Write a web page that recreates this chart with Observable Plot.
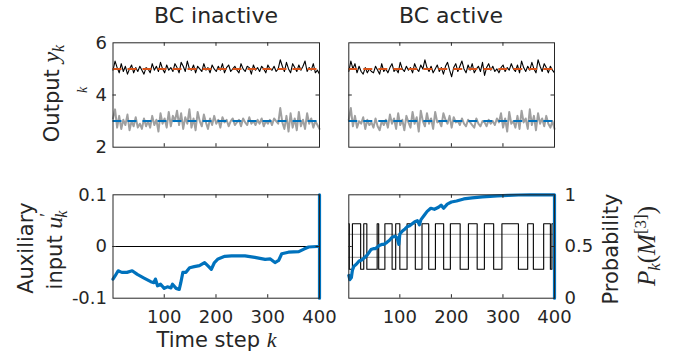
<!DOCTYPE html>
<html><head><meta charset="utf-8">
<script src="https://cdn.jsdelivr.net/npm/d3@7"></script>
<script src="https://cdn.jsdelivr.net/npm/@observablehq/plot@0.6"></script>
<style>
html,body{margin:0;padding:0;background:#fff;}
#chart{position:relative;width:678px;height:362px;overflow:hidden;font-family:"DejaVu Sans",sans-serif;}
#chart svg{position:absolute;left:0;top:0;}
</style></head><body><div id="chart"></div>
<script>
// ---------------- data ----------------
const panelTitles = ["BC inactive", "BC active"];
const xTickValues = [100, 200, 300, 400];
const outputTicks = [2, 4, 6];
const auxTicks = [-0.1, 0, 0.1];
const probTicks = [0, 0.5, 1];
const setpoints = [5, 3];

// measured outputs (sampled evenly over k = 1..400)
const blackInactive = [4.95,5.3,5.05,4.85,5.2,4.9,5.1,4.8,5.0,5.15,4.85,5.05,4.9,5.1,4.95,4.8,5.05,5.0,4.85,5.2,4.95,5.1,4.9,5.25,5.0,4.85,5.15,4.95,5.05,4.9,5.2,5.05,4.85,5.25,5.1,4.9,5.3,5.0,4.95,5.15,4.85,5.1,5.0,4.9,5.2,4.95,5.05,4.85,5.15,5.0,4.9,5.1,4.95,5.2,4.85,5.05,5.15,4.9,5.0,5.1,4.95,4.85,5.2,5.0,4.9,5.1,5.05,4.8,5.15,4.95,5.05,4.9,5.1,5.0,4.85,5.15,5.0,4.95,5.1,4.9,5.0,5.35,5.1,4.9,5.25,5.0,4.85,5.2,5.05,4.9,5.15,4.95,5.1,5.3,4.9,5.05,4.95,5.2,4.85,4.95,4.8];
const grayInactive = [3.1,3.45,2.75,3.2,2.7,3.05,2.85,3.25,2.65,3.0,2.8,3.15,2.75,2.9,2.7,3.1,2.8,3.0,2.75,3.2,2.85,3.05,2.6,3.3,2.9,3.1,2.75,3.35,2.8,3.2,3.0,3.4,2.85,3.3,2.7,3.15,2.9,3.45,2.75,3.1,2.65,3.35,3.0,2.8,3.25,2.95,2.7,3.1,2.85,3.2,2.9,3.05,2.75,3.15,2.95,3.05,2.8,3.0,3.1,2.85,2.95,3.05,2.8,3.1,2.95,2.85,3.15,2.9,3.0,2.85,3.05,2.9,3.1,2.8,3.0,2.9,3.05,2.85,3.1,3.0,2.9,3.5,2.95,2.7,3.2,2.6,3.3,2.75,3.1,2.65,3.35,2.8,3.05,2.7,3.3,2.9,3.1,2.75,3.0,2.85,2.7];
const blackActive = [4.9,5.3,5.0,5.2,4.85,5.1,4.9,4.8,5.05,4.85,5.0,4.9,4.85,5.1,4.95,4.8,5.2,4.9,5.0,4.85,5.05,5.2,4.9,5.0,4.85,5.25,5.0,4.9,5.1,4.95,5.05,4.85,5.2,5.0,4.9,5.15,5.0,5.35,5.05,4.9,5.1,4.85,5.0,5.15,4.9,5.05,4.8,5.1,5.25,4.95,4.7,5.05,5.2,4.9,5.1,5.3,5.0,4.85,5.15,4.95,5.2,4.85,5.0,5.1,4.9,5.25,4.75,5.05,5.2,4.95,5.1,4.9,5.0,4.85,5.05,5.15,4.9,5.05,4.95,5.2,5.0,4.9,5.15,4.85,5.3,5.05,4.9,5.1,4.95,5.25,5.0,4.85,5.35,5.1,4.9,5.2,5.05,4.85,5.1,4.95,4.85];
const grayActive = [3.05,3.5,2.8,3.2,2.75,3.0,2.9,3.15,2.7,3.05,2.85,2.95,2.75,3.1,2.8,2.65,3.0,2.85,3.05,2.75,3.25,2.9,3.1,2.7,3.3,2.85,3.05,2.65,3.2,2.95,2.75,3.35,2.9,3.15,2.6,3.4,3.0,2.8,3.3,2.9,3.1,2.7,3.35,2.95,3.0,2.8,3.3,3.05,2.9,3.2,2.75,3.15,2.95,3.0,2.85,3.1,2.9,2.8,3.05,2.95,2.85,2.75,3.1,2.9,2.8,3.0,2.95,2.8,3.05,2.9,3.0,2.85,3.1,2.95,3.3,2.75,3.1,2.6,3.35,2.9,3.0,2.75,3.2,2.7,3.4,2.95,3.1,2.7,3.45,2.85,3.2,2.65,3.3,2.9,3.1,2.8,3.2,2.9,2.75,3.0,2.7];

// auxiliary input u'_k (BC inactive)
const auxK = [1,5,11,18,28,38,48,61,74,80,83,87,93,100,106,113,116,123,129,132,136,142,149,158,168,178,184,191,197,204,217,230,256,275,295,305,314,321,327,340,360,370,379,395,400,400,400];
const auxV = [-0.063,-0.057,-0.047,-0.05,-0.05,-0.047,-0.054,-0.061,-0.068,-0.07,-0.063,-0.076,-0.073,-0.081,-0.078,-0.08,-0.073,-0.081,-0.083,-0.07,-0.05,-0.05,-0.041,-0.039,-0.037,-0.031,-0.037,-0.044,-0.031,-0.024,-0.019,-0.018,-0.018,-0.021,-0.025,-0.024,-0.031,-0.027,-0.014,-0.011,-0.01,-0.005,-0.001,0,0,0.1,-0.1];

// auxiliary input (BC active): switching signal, and its bounds
const switchK = [1,2,8,24,30,36,56,59,71,85,92,100,114,130,143,156,169,185,198,217,233,250,264,282,298,330,348,359,379,392,395,400];
const switchV = [0.044,-0.044,0.044,-0.044,0.044,-0.044,0.044,-0.044,0.044,-0.044,0.044,-0.044,0.044,-0.044,0.044,-0.044,0.044,-0.044,0.044,-0.044,0.044,-0.044,0.044,-0.044,0.044,-0.044,0.044,-0.044,0.044,-0.044,0.044,0.044];
const bounds = [0.0235, -0.021];

// probability P_k(M^[3])
const probK = [1,3,6,8,11,16,21,26,31,37,44,50,53,60,65,69,75,80,85,91,95,98,100,105,110,114,119,124,129,134,138,141,147,153,160,167,175,180,185,192,200,210,224,240,260,275,289,310,330,353,375,399,400,400];
const probV = [0.22,0.18,0.2,0.27,0.31,0.33,0.36,0.37,0.39,0.42,0.47,0.48,0.48,0.51,0.52,0.52,0.54,0.56,0.59,0.6,0.58,0.52,0.62,0.65,0.67,0.69,0.7,0.72,0.74,0.75,0.71,0.76,0.8,0.84,0.87,0.86,0.88,0.9,0.87,0.91,0.93,0.94,0.96,0.97,0.98,0.985,0.99,0.995,0.998,1.0,1.0,1.0,1.0,0];

// ---------------- layout / style ----------------
const W = 678, H = 362, INK = "#262626";
const BLUE = "#0072BD", ORANGE = "#D95319", GRAY = "#a0a0a0";
const COLS = [[112.5, 319], [348.3, 554]];
const ROWS = [[42.3, 146.7], [194.3, 297.7]];
const setColors = [ORANGE, BLUE];

const seriesTable = arr => arr.map((v, i) => ({k: 1 + i * 399 / (arr.length - 1), v}));
const pairTable = (ks, vs) => ks.map((k, i) => ({k, v: vs[i]}));

function panel({col, row, yDomain, marks, midTick, leftAxis, rightAxis, xAxis}) {
  const [x0, x1] = COLS[col], [y0, y1] = ROWS[row];
  const pw = x1 - x0, ph = y1 - y0;
  const inner = xTickValues.filter(t => t < 400);
  const m = [...marks,
    Plot.tickX(inner, {x: d => d, stroke: INK, strokeWidth: 1, insetTop: ph - 3.5}),
    Plot.tickX(inner, {x: d => d, stroke: INK, strokeWidth: 1, insetBottom: ph - 3.5}),
    Plot.tickY([midTick], {y: d => d, stroke: INK, strokeWidth: 1, insetRight: pw - 3.5}),
    Plot.tickY([midTick], {y: d => d, stroke: INK, strokeWidth: 1, insetLeft: pw - 3.5}),
    Plot.frame({stroke: INK, strokeWidth: 1})
  ];
  if (xAxis) m.push(Plot.axisX(xTickValues, {anchor: "bottom", tickSize: 0, tickPadding: 12, label: null, tickFormat: d => String(d), fontSize: 18}));
  if (leftAxis) m.push(Plot.axisY(leftAxis, {anchor: "left", tickSize: 0, tickPadding: 6, label: null, tickFormat: d => String(d), fontSize: 18}));
  if (rightAxis) m.push(Plot.axisY(rightAxis, {anchor: "right", tickSize: 0, tickPadding: 10, label: null, tickFormat: d => String(d), fontSize: 18}));
  return Plot.plot({
    width: W, height: H,
    marginLeft: x0, marginRight: W - x1, marginTop: y0, marginBottom: H - y1,
    x: {domain: [1, 400], axis: null},
    y: {domain: yDomain, axis: null},
    style: {background: "transparent", color: INK, fontFamily: "DejaVu Sans", fontSize: "18px", overflow: "visible"},
    marks: m
  });
}

function outputMarks(black, gray) {
  return [
    Plot.line(seriesTable(black), {x: "k", y: "v", stroke: "#000", strokeWidth: 1.1}),
    Plot.line(seriesTable(gray), {x: "k", y: "v", stroke: GRAY, strokeWidth: 2}),
    ...setpoints.map((s, i) => Plot.ruleY([s], {stroke: setColors[i], strokeWidth: 2, strokeDasharray: "9,6"}))
  ];
}

const chart = document.getElementById("chart");
chart.append(panel({col: 0, row: 0, yDomain: [2, 6], midTick: 4, leftAxis: outputTicks, marks: outputMarks(blackInactive, grayInactive)}));
chart.append(panel({col: 1, row: 0, yDomain: [2, 6], midTick: 4, marks: outputMarks(blackActive, grayActive)}));
chart.append(panel({col: 0, row: 1, yDomain: [-0.1, 0.1], midTick: 0, leftAxis: auxTicks, xAxis: true, marks: [
  Plot.ruleY([0], {stroke: "#000", strokeWidth: 1}),
  Plot.line(pairTable(auxK, auxV), {x: "k", y: "v", stroke: BLUE, strokeWidth: 3.2})
]}));
// the switching signal lives on the auxiliary range [-0.1, 0.1]; the plotted scale is the probability [0, 1]
const toProb = u => (u + 0.1) / 0.2;
chart.append(panel({col: 1, row: 1, yDomain: [0, 1], midTick: 0.5, rightAxis: probTicks, xAxis: true, marks: [
  ...bounds.map(b => Plot.ruleY([toProb(b)], {stroke: "#aaaaaa", strokeWidth: 1.3})),
  Plot.line(pairTable(switchK, switchV), {x: "k", y: d => toProb(d.v), curve: "step-after", stroke: "#000", strokeWidth: 1.1}),
  Plot.line(pairTable(probK, probV), {x: "k", y: "v", stroke: BLUE, strokeWidth: 3.2})
]}));

// ---------------- titles and axis labels ----------------
const svg = d3.create("svg").attr("width", W).attr("height", H)
  .style("font-family", "DejaVu Sans").style("fill", INK).style("overflow", "visible");
const SERIF = "Liberation Serif";
function label(x, y, rot, size, parts) {
  const t = svg.append("text")
    .attr("transform", `translate(${x},${y})` + (rot ? ` rotate(${rot})` : ""))
    .attr("text-anchor", "middle").attr("font-size", size);
  for (const p of parts) {
    const s = t.append("tspan").text(p.t);
    if (p.math) s.attr("font-family", SERIF).attr("font-style", p.up ? "normal" : "italic");
    if (p.size) s.attr("font-size", p.size);
    if (p.dy) s.attr("dy", p.dy);
    if (p.dx) s.attr("dx", p.dx);
  }
}
label(216, 22.5, 0, 22, [{t: panelTitles[0]}]);
label(451, 22.5, 0, 22, [{t: panelTitles[1]}]);
label(216.5, 347, 0, 21, [{t: "Time step "}, {t: "k", math: true, size: 22}]);
label(59, 93.5, -90, 21, [{t: "Output "}, {t: "y", math: true, size: 24}, {t: "k", math: true, size: 16, dy: 5}]);
label(87, 90, -90, 14, [{t: "k", math: true}]);
label(33, 248, -90, 21, [{t: "Auxiliary"}]);
label(62, 250, -90, 21, [{t: "input "}, {t: "u", math: true, size: 24}, {t: "′", math: true, up: true, size: 18, dy: -9}, {t: "k", math: true, size: 16, dx: -5, dy: 14}]);
label(618, 249, -90, 21, [{t: "Probability"}]);
label(655, 246, -90, 21, [{t: "P", math: true, size: 25}, {t: "k", math: true, size: 17, dy: 5},
  {t: "(", math: true, up: true, size: 25, dy: -5}, {t: "M", math: true, size: 25},
  {t: "[3]", math: true, up: true, size: 17, dy: -9}, {t: ")", math: true, up: true, size: 25, dy: 9}]);
chart.append(svg.node());
</script>
</body></html>
